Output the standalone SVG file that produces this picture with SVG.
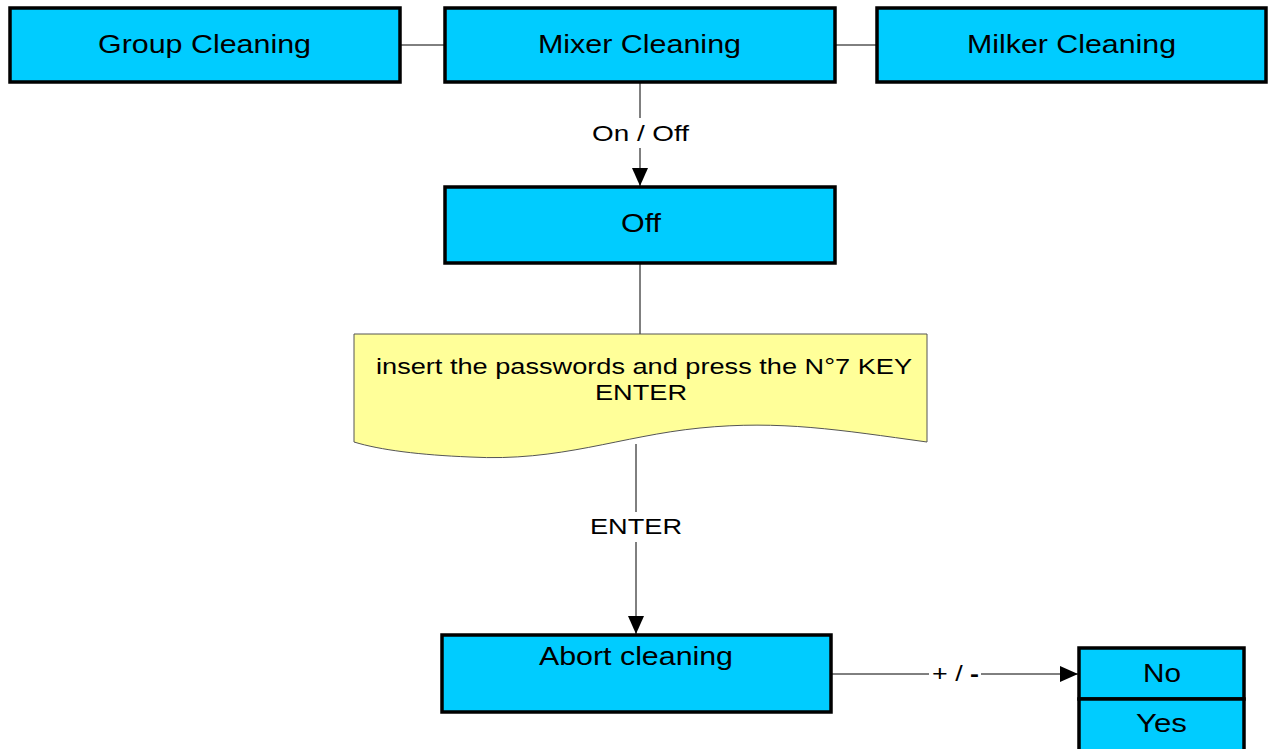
<svg xmlns="http://www.w3.org/2000/svg" width="1268" height="749" viewBox="0 0 1268 749">
<defs>
<style>
.box{fill:#00CCFF;stroke:#000;stroke-width:3.5}
.t{font-family:"Liberation Sans",Arial,sans-serif;font-size:25px;fill:#000;text-anchor:middle}
.s{font-family:"Liberation Sans",Arial,sans-serif;font-size:22px;fill:#000;text-anchor:middle}
.ln{stroke:#000;stroke-width:1;fill:none}
</style>
<marker id="arr" markerWidth="20" markerHeight="16" refX="18" refY="8" orient="auto" markerUnits="userSpaceOnUse">
<path d="M0,0 L18,8 L0,16 Z" fill="#000"/>
</marker>
</defs>
<rect width="1268" height="749" fill="#fff"/>
<g id="connectors">
<line class="ln" x1="400" y1="45" x2="445" y2="45"/>
<line class="ln" x1="835" y1="45" x2="877" y2="45"/>
<line class="ln" x1="640" y1="83" x2="640" y2="186" marker-end="url(#arr)"/>
<rect x="588" y="118" width="104" height="30" fill="#fff"/>
<text class="s" x="640.5" y="141" textLength="97" lengthAdjust="spacingAndGlyphs">On / Off</text>
<line class="ln" x1="640" y1="263" x2="640" y2="334"/>
<line class="ln" x1="636" y1="444" x2="636" y2="634" marker-end="url(#arr)"/>
<rect x="586" y="512" width="100" height="30" fill="#fff"/>
<text class="s" x="636" y="534" textLength="92" lengthAdjust="spacingAndGlyphs">ENTER</text>
<line class="ln" x1="831" y1="674" x2="1078" y2="674" marker-end="url(#arr)"/>
<rect x="929" y="660" width="52" height="28" fill="#fff"/>
<text class="s" x="955.5" y="681" textLength="47" lengthAdjust="spacingAndGlyphs">+ / <tspan font-weight="bold">-</tspan></text>
</g>
<g id="group-cleaning">
<rect class="box" x="10" y="8" width="390" height="74"/>
<text class="t" x="204.5" y="53" textLength="213" lengthAdjust="spacingAndGlyphs">Group Cleaning</text>
</g>
<g id="mixer-cleaning">
<rect class="box" x="445" y="8" width="390" height="74"/>
<text class="t" x="639.5" y="53" textLength="203" lengthAdjust="spacingAndGlyphs">Mixer Cleaning</text>
</g>
<g id="milker-cleaning">
<rect class="box" x="877" y="8" width="389" height="74"/>
<text class="t" x="1071.5" y="53" textLength="209" lengthAdjust="spacingAndGlyphs">Milker Cleaning</text>
</g>
<g id="off">
<rect class="box" x="445" y="187" width="390" height="76"/>
<text class="t" x="641" y="232" textLength="40" lengthAdjust="spacingAndGlyphs">Off</text>
</g>
<g id="password-doc">
<path d="M354,334 L927,334 L927,442 C840,430 780,420 700,428 C620,436 560,462 470,457 C420,455 380,450 354,442 Z" fill="#FFFF99" stroke="#555" stroke-width="1"/>
<text class="s" x="644" y="374" textLength="536" lengthAdjust="spacingAndGlyphs">insert the passwords and press the N°7 KEY</text>
<text class="s" x="641" y="400" textLength="92" lengthAdjust="spacingAndGlyphs">ENTER</text>
</g>
<g id="abort-cleaning">
<rect class="box" x="442" y="635" width="389" height="77"/>
<text class="t" x="636" y="665" textLength="194" lengthAdjust="spacingAndGlyphs">Abort cleaning</text>
</g>
<g id="no">
<rect class="box" x="1079" y="648" width="165" height="51"/>
<text class="t" x="1162" y="682" textLength="38" lengthAdjust="spacingAndGlyphs">No</text>
</g>
<g id="yes">
<rect class="box" x="1079" y="699" width="165" height="52"/>
<text class="t" x="1161.5" y="732" textLength="51" lengthAdjust="spacingAndGlyphs">Yes</text>
</g>
</svg>
